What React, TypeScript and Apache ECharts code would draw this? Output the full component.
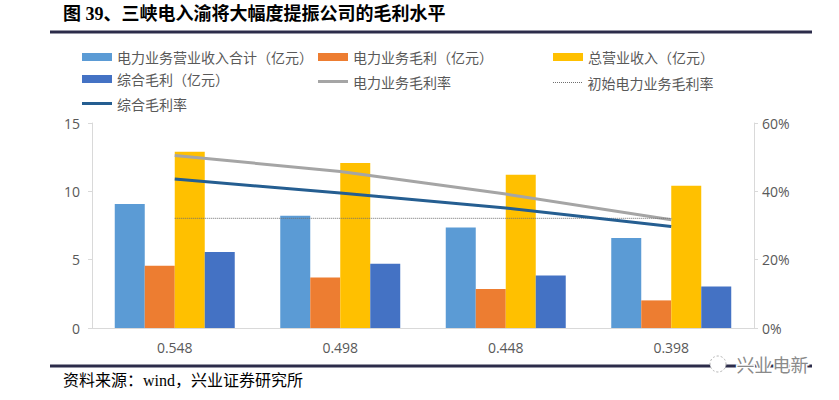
import React, { useEffect, useRef } from "react";
import * as echarts from "echarts";

const categories = ["0.548", "0.498", "0.448", "0.398"];
const powerRevenue = [9.07, 8.22, 7.36, 6.58];
const powerGross = [4.56, 3.7, 2.85, 2.02];
const totalRevenue = [12.9, 12.07, 11.21, 10.41];
const totalGross = [5.56, 4.7, 3.85, 3.04];
const powerMargin = [50.5, 45.8, 39.2, 31.7];
const initialPowerMargin = [32.1, 32.1, 32.1, 32.1];
const totalMargin = [43.6, 39.5, 35.1, 29.7];

const names = [
  "电力业务营业收入合计（亿元）",
  "电力业务毛利（亿元）",
  "总营业收入（亿元）",
  "综合毛利（亿元）",
  "电力业务毛利率",
  "初始电力业务毛利率",
  "综合毛利率",
];

const titleText = "图 39、三峡电入渝将大幅度提振公司的毛利水平";
const sourceText = "资料来源：wind，兴业证券研究所";
const watermarkText = "兴业电新";

const FONT = "'Noto Sans CJK SC', 'Noto Sans', sans-serif";
const NUMFONT = "'Open Sans', 'Noto Sans', sans-serif";
const SERIF = "'Liberation Serif', 'DejaVu Serif', 'Noto Sans CJK SC', serif";

function dottedIcon() {
  let p = "path://";
  for (let i = 0; i < 15; i++) p += `M${i * 2},0h1v1h-1z`;
  return p;
}

export default function App() {
  const ref = useRef<HTMLDivElement>(null);
  useEffect(() => {
    if (!ref.current) return;
    const chart = echarts.init(ref.current, null, { renderer: "svg" });
    const legendPos = [
      [82, 50],
      [318, 50],
      [553, 50],
      [82, 72],
      [318, 72],
      [553, 72],
      [82, 94],
    ];
    const icons = ["rect", "rect", "rect", "rect", "rect", dottedIcon(), "rect"];
    const heights = [8, 8, 8, 8, 3, 1, 3];
    const legends = names.map((n, i) => ({
      data: [{ name: n, icon: icons[i] }],
      left: legendPos[i][0],
      top: legendPos[i][1] + (8 - heights[i]) / 2,
      itemWidth: 30,
      itemHeight: heights[i],
      itemGap: 0,
      padding: 0,
      textStyle: { color: "#595959", fontSize: 14, fontFamily: FONT },
    }));
    const barColors = ["#5B9BD5", "#ED7D31", "#FFC000", "#4472C4"];
    const barData = [powerRevenue, powerGross, totalRevenue, totalGross];
    const series: any[] = barData.map((d, i) => ({
      name: names[i],
      type: "bar",
      data: d,
      barGap: "0%",
      barCategoryGap: "27.5%",
      itemStyle: { color: barColors[i] },
    }));
    series.push(
      {
        name: names[4],
        type: "line",
        yAxisIndex: 1,
        data: powerMargin,
        symbol: "none",
        lineStyle: { color: "#A5A5A5", width: 3 },
        itemStyle: { color: "#A5A5A5" },
      },
      {
        name: names[5],
        type: "line",
        yAxisIndex: 1,
        data: initialPowerMargin,
        symbol: "none",
        lineStyle: { color: "#6f6f6f", width: 1, type: "dotted" },
        itemStyle: { color: "#6f6f6f" },
      },
      {
        name: names[6],
        type: "line",
        yAxisIndex: 1,
        data: totalMargin,
        symbol: "none",
        lineStyle: { color: "#255E91", width: 3 },
        itemStyle: { color: "#255E91" },
      }
    );
    chart.setOption({
      animation: false,
      backgroundColor: "#ffffff",
      legend: legends,
      grid: { left: 92, right: 85, top: 123, bottom: 72 },
      xAxis: {
        type: "category",
        data: categories,
        axisLine: { lineStyle: { color: "#d9d9d9" } },
        axisTick: { show: false },
        axisLabel: { color: "#595959", fontSize: 14, fontFamily: NUMFONT, margin: 12 },
      },
      yAxis: [
        {
          type: "value",
          min: 0,
          max: 15,
          interval: 5,
          splitLine: { show: false },
          axisLine: { show: true, lineStyle: { color: "#d9d9d9" } },
          axisTick: { show: true, length: 4, lineStyle: { color: "#d9d9d9" } },
          axisLabel: { color: "#595959", fontSize: 14, fontFamily: NUMFONT, margin: 12 },
        },
        {
          type: "value",
          min: 0,
          max: 60,
          interval: 20,
          splitLine: { show: false },
          axisLine: { show: true, lineStyle: { color: "#d9d9d9" } },
          axisTick: { show: true, length: 4, lineStyle: { color: "#d9d9d9" } },
          axisLabel: { color: "#595959", fontSize: 14, fontFamily: NUMFONT, margin: 8, formatter: "{value}%" },
        },
      ],
      series,
      graphic: [
        {
          type: "text",
          left: 63,
          top: 5,
          style: { text: titleText, fontSize: 18, fontWeight: "bold", fontFamily: SERIF, fill: "#000000" },
        },
        {
          type: "line",
          shape: { x1: 50, y1: 32, x2: 812, y2: 32 },
          style: { stroke: "#2c2c4a", lineWidth: 3 },
        },
        {
          type: "line",
          shape: { x1: 50, y1: 366, x2: 812, y2: 366 },
          style: { stroke: "#2c2c4a", lineWidth: 3 },
        },
        {
          type: "text",
          left: 63,
          top: 372,
          style: { text: sourceText, fontSize: 16, fontFamily: SERIF, fill: "#000000" },
        },
        {
          type: "circle",
          shape: { cx: 718, cy: 364, r: 8 },
          style: { fill: "#ffffff", stroke: "#b0b0b0", lineWidth: 1, lineDash: [2, 2] },
        },
        {
          type: "text",
          left: 735,
          top: 353,
          style: {
            text: watermarkText,
            fontSize: 18,
            fontFamily: FONT,
            fill: "#8a8a8a",
            stroke: "#ffffff",
            lineWidth: 3,
          },
        },
      ],
    });
    return () => chart.dispose();
  }, []);
  return (
    <div
      ref={ref}
      style={{ position: "absolute", left: 0, top: 0, width: 839, height: 400 }}
    />
  );
}
